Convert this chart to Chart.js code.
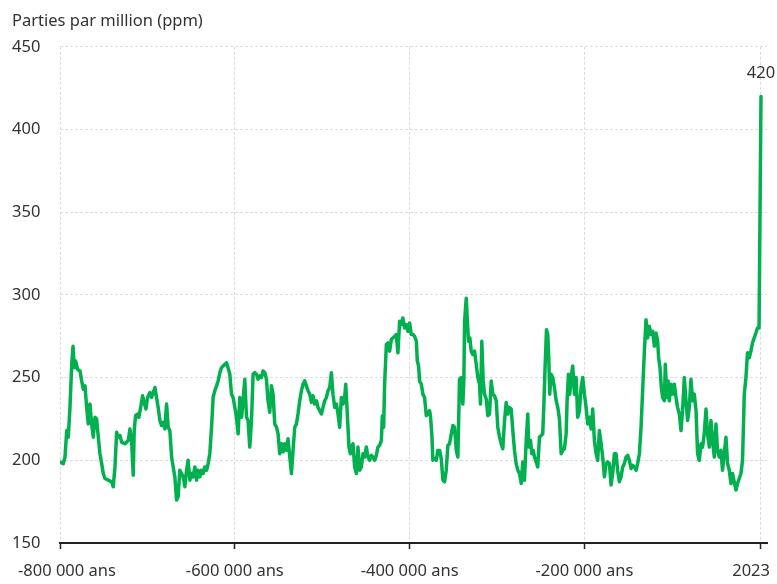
<!DOCTYPE html>
<html><head><meta charset="utf-8">
<script src="https://cdn.jsdelivr.net/npm/chart.js@4.4.1/dist/chart.umd.min.js"></script>
<style>html,body{margin:0;padding:0;background:#fff}#wrap{width:777px;height:584px;position:relative}</style>
</head><body><div id="wrap"><canvas id="c"></canvas></div>
<script>
const yAxisTitle = 'Parties par million (ppm)';
const tickYears = [-800000, -600000, -400000, -200000, 2023];
const tickLabels = ['-800 000 ans', '-600 000 ans', '-400 000 ans', '-200 000 ans', '2023'];
const yTicks = [150, 200, 250, 300, 350, 400, 450];

// age in thousands of years before present
const ageKyrBP = [
800,796.2,794.3,792.3,790.5,788.6,786.6,785.1,783.7,782.1,
779.8,777.1,775.2,773.4,771.4,769.5,767.7,765.7,763.8,761.9,
760,758.1,756.2,754.3,752.3,750.5,748.6,744.8,740.9,739.1,
737.1,735.2,733.4,731.4,729.5,725.7,721.9,720,718.1,716.2,
715.1,713.5,711.2,709.7,707.4,705.5,703.7,701.7,699.8,697.1,
695.2,693.4,691.4,689.5,687.7,685.7,683.8,681.9,680,678.1,
676.2,674.3,672.3,670.5,668.6,666.6,664.8,662.9,660.9,659.1,
657.1,655.2,653.4,651.4,649.5,647.7,645.7,643.8,642,640,
638.1,636.2,634.3,632.3,630.5,628.6,626.6,624.8,622.9,620.9,
619.1,617.1,615.2,613.4,611.4,609.5,607.7,605.7,603.8,601.9,
600,598.1,596.2,594.3,592.3,590.5,588.6,586.6,584.8,582.9,
580.9,579.1,577.1,575.2,573.4,571.4,569.5,567.7,565.7,563.8,
562,560,558.1,556.2,554.3,552.3,550.5,548.6,546.6,544.8,
542.9,540.9,539.1,537.1,535.2,533.4,531.4,529.5,527.7,525.7,
523.8,521.9,520,518.1,516.2,514.3,512.3,510.5,508.6,506.6,
504.8,502.9,500.9,499.1,497.1,495.2,493.4,491.4,489.5,487.7,
485.7,483.8,481.9,480,478.1,476.2,474.3,473.1,471.7,470.5,
469.4,467.8,466.6,464.8,462.9,460.9,459.1,457.1,455.2,453.4,
451.4,449.5,447.7,445.7,443.8,442,440,438.1,436.2,434.3,
432.3,431.2,429.7,428.6,426.6,424.8,422.9,420.9,419.1,417.1,
415.2,413.4,411.4,409.5,407.7,405.7,403.8,401.9,400,398.1,
396.2,394.3,392.3,391.2,389.7,388.6,386.6,384.8,382.9,380.9,
379.1,377.1,376,374.5,373.4,371.4,369.5,367.7,365.7,363.8,
361.9,360,358.1,356.2,354.3,352.3,350.5,348.6,346.6,344.8,
343.7,342.9,340.9,339.1,337.9,337.1,335.2,334.1,332.6,331.1,
329.5,327.7,325.7,323.8,321.9,320,318.9,317.4,315.8,314.3,
312.3,310.5,308.6,306.6,304.8,302.9,300.9,299.1,297.1,295.2,
293.4,291.4,289.5,287.7,285.7,283.8,281.9,280,278.1,276.2,
274.3,272.3,270.5,268.6,266.6,264.8,263.7,261.7,260.2,258.6,
257.1,255.2,253.4,251.4,249.5,247.7,246.5,244.9,243.4,241.9,
240.8,239.7,238.1,236.2,234.3,232.3,230.5,228.6,226.6,224.8,
222.9,220.9,219.8,218.3,216.8,215.2,213.4,211.4,209.5,207.7,
205.7,203.8,201.9,200,198.1,196.2,194.3,192.3,190.5,188.6,
186.6,184.8,182.9,180.9,179.1,177.1,175.2,173.4,171.4,169.5,
167.7,165.7,163.8,162,160,158.1,156.2,154.3,152.3,150.5,
148.6,146.6,144.8,142.9,140.9,139.1,137.1,135.2,133.4,131.4,
129.5,127.7,125.7,123.8,121.9,120,118.1,116.2,115.1,113.5,
112,110.5,108.6,107.4,105.9,104.3,102.9,100.9,99.1,97.1,
95.2,93.4,91.4,89.5,87.7,85.7,83.8,81.9,80,78.1,
76.2,74.3,72.3,70.5,68.6,66.6,64.8,62.9,60.9,59.1,
57.1,55.2,53.4,51.4,49.5,47.7,45.7,43.8,42,40,
38.1,36.2,34.3,32.3,30.5,28.6,26.6,24.8,22.9,20.9,
19.1,17.1,15.2,13.4,11.4,9.5,7.7,5.7,3.8,1.9,
0.2
];
const co2Ppm = [
199,198,202,218,214,232,258,269,256,260,
255,254,248,243,245,232,222,234,222,214,
226,225,214,204,198,192,189,188,187,184,
196,217,214,215,211,210,212,219,212,191,
218,227,228,226,233,239,235,231,238,241,
238,241,244,238,232,224,221,223,219,234,
220,218,202,196,190,176,178,194,192,190,
184,194,200,188,192,190,196,188,194,190,
194,192,196,194,198,204,220,238,242,245,
248,253,256,257,258,259,256,252,240,238,
232,226,216,238,226,236,249,226,224,208,
224,252,253,252,249,251,250,254,253,249,
236,229,245,240,222,220,216,204,210,205,
210,206,213,202,192,206,220,222,228,236,
242,246,248,245,242,240,235,239,234,236,
232,230,228,232,236,238,242,244,253,240,
232,234,228,220,238,234,238,246,232,220,
208,204,208,210,196,192,208,194,196,204,
202,208,202,200,203,202,200,203,208,209,
212,227,220,246,270,271,266,273,274,275,
276,265,284,282,286,280,282,278,283,276,
276,275,272,260,257,248,246,240,238,227,
228,230,226,215,200,201,200,206,206,201,
188,187,194,209,210,216,221,220,206,202,
228,249,250,234,250,284,298,286,272,274,
266,264,266,258,250,246,234,272,248,240,
237,227,228,248,240,239,236,220,214,210,
207,224,235,228,232,231,218,206,198,194,
192,186,199,188,212,228,208,212,204,206,
202,199,196,214,215,216,232,258,279,276,
262,240,252,250,244,236,232,225,204,206,
207,216,236,252,240,250,257,240,250,226,
230,244,250,240,232,222,226,219,231,212,
204,200,218,210,202,190,198,199,198,185,
192,204,204,194,187,190,196,198,202,203,
200,195,197,196,194,198,204,220,242,266,
285,274,281,276,278,269,277,272,262,256,
244,238,236,258,238,248,236,246,240,246,
238,232,228,218,230,250,236,224,232,249,
236,240,230,204,200,210,208,216,231,216,
208,224,212,202,222,206,202,206,194,204,
214,198,194,186,192,187,182,186,189,192,
200,240,250,265,262,266,271,274,277,280,
280
];
const modernYear = 2023;
const modernPpm = 420;

const FONT = "'Noto Sans', sans-serif";
const TEXT = '#333333';
const GRID = '#dcdcdc';
const GREEN = '#02b050';
const FIRST = 0;
const LAST = tickYears.length - 1;
const X_FONT_SIZE = 16.5;
const X_TICK_LEN = 6;
const X_PAD = 12;

const points = ageKyrBP.map((a, i) => ({ x: -a * 1000, y: co2Ppm[i] }));
points.push({ x: modernYear, y: modernPpm });

// end-of-line value label; the outermost x tick labels are justified inside the canvas
const annotations = {
  id: 'annotations',
  afterDraw(chart) {
    const ctx = chart.ctx;
    const meta = chart.getDatasetMeta(0);
    const last = meta.data[meta.data.length - 1];
    ctx.save();
    ctx.fillStyle = TEXT;
    ctx.font = "16.5px " + FONT;
    ctx.textAlign = 'center';
    ctx.textBaseline = 'middle';
    ctx.fillText(String(modernPpm), last.x, last.y - 23);
    const xs = chart.scales.x;
    const ly = xs.top + X_TICK_LEN + X_PAD + X_FONT_SIZE * 1.2 / 2;
    ctx.font = X_FONT_SIZE + "px " + FONT;
    ctx.textBaseline = 'middle';
    ctx.textAlign = 'right';
    ctx.fillText(tickLabels[LAST], xs.getPixelForValue(tickYears[LAST]) + 9, ly);
    ctx.textAlign = 'left';
    ctx.fillText(tickLabels[FIRST], xs.getPixelForValue(tickYears[FIRST]) - 42, ly);
    ctx.restore();
  }
};

new Chart(document.getElementById('c'), {
  type: 'line',
  data: { datasets: [{
    data: points,
    borderColor: GREEN,
    borderWidth: 3.5,
    pointRadius: 0,
    tension: 0,
    borderJoinStyle: 'round',
    borderCapStyle: 'round',
    fill: false
  }]},
  options: {
    responsive: true,
    maintainAspectRatio: false,
    animation: false,
    layout: { padding: { left: 12, right: 10, top: 0, bottom: 0 } },
    plugins: {
      legend: { display: false },
      tooltip: { enabled: false },
      title: {
        display: true, text: yAxisTitle, align: 'start', color: TEXT,
        font: { family: FONT, size: 16.5, weight: 'normal' },
        padding: { top: 11, bottom: 16 }
      }
    },
    scales: {
      x: {
        type: 'linear', position: 'bottom',
        min: -800000, max: 8900,
        afterBuildTicks: (s) => { s.ticks = tickYears.map(v => ({ value: v })); },
        afterFit: (s) => { s.height = 41; s.paddingRight = 0; s.paddingLeft = 0; },
        ticks: {
          autoSkip: false, maxRotation: 0, minRotation: 0, padding: X_PAD,
          color: (c) => (c.index === LAST || c.index === FIRST) ? 'rgba(0,0,0,0)' : TEXT,
          font: { family: FONT, size: X_FONT_SIZE },
          callback: (v, i) => tickLabels[i]
        },
        grid: { color: GRID, lineWidth: 1, drawTicks: true, tickLength: X_TICK_LEN,
                tickColor: '#222222', tickWidth: 1.5, tickBorderDash: [] },
        border: { display: true, color: '#222222', width: 2, dash: [3, 2] }
      },
      y: {
        min: 150, max: 450,
        afterBuildTicks: (s) => { s.ticks = yTicks.map(v => ({ value: v })); },
        afterFit: (s) => { s.width = 48; },
        ticks: { padding: 0, crossAlign: 'far', color: TEXT, font: { family: FONT, size: 16.5 } },
        grid: { color: GRID, lineWidth: 1, drawTicks: false },
        border: { display: false, dash: [3, 2] }
      }
    }
  },
  plugins: [annotations]
});
</script>
</body></html>
